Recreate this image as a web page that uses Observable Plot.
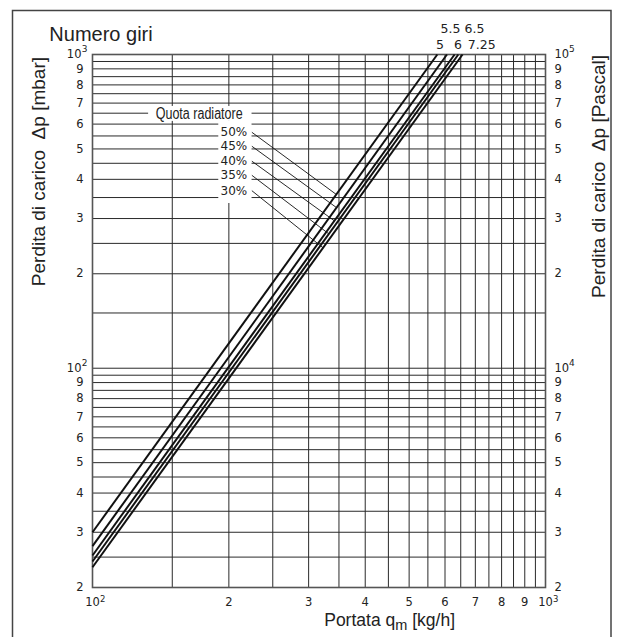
<!DOCTYPE html>
<html><head><meta charset="utf-8">
<script src="https://cdn.jsdelivr.net/npm/d3@7"></script>
<script src="https://cdn.jsdelivr.net/npm/@observablehq/plot@0.6"></script>
<style>
html,body{margin:0;padding:0;background:#fff;}
</style></head><body><div id="chart"></div>
<script>
// ---- data ----
const turns = ["5", "5.5", "6", "6.5", "7.25"];            // Numero giri
const dpAtFlow100 = [30, 27.1, 25.3, 24.2, 23.2];          // mbar at 100 kg/h
const flowAtDp1000 = [577, 606, 630, 642, 656];            // kg/h at 1000 mbar
const turnLabelFlow = [585, 617, 641, 697, 723];           // label positions (kg/h)
const turnLabelDp = [1076, 1206, 1076, 1206, 1076];        // label rows (mbar)

const shares = ["50%", "45%", "40%", "35%", "30%"];        // Quota radiatore
const shareLabelFlow = 219.6;
const shareLabelDp = [565, 510, 457, 412, 368];
const leaderStartFlow = 224.8;
const leaderEndDp = [358, 325, 295, 268, 242];
const quotaTitle = "Quota radiatore";
const quotaTitleFlow = 172, quotaTitleDp = 645;
const labelBoxes = [
  {q1: 133, q2: 225, p1: 612, p2: 683},
  {q1: 190, q2: 225, p1: 335, p2: 612}
];

// tick values and their labels
const xTicks = [100, 200, 300, 400, 500, 600, 700, 800, 900, 1000];
const xTickText = ["10", "2", "3", "4", "5", "6", "7", "8", "9", "10"];
const xTickExp = ["2", "", "", "", "", "", "", "", "", "3"];
const yTicks = [20, 30, 40, 50, 60, 70, 80, 90, 100, 200, 300, 400, 500, 600, 700, 800, 900, 1000];
const yTickText = ["2", "3", "4", "5", "6", "7", "8", "9", "10", "2", "3", "4", "5", "6", "7", "8", "9", "10"];
const yLeftExp = ["", "", "", "", "", "", "", "", "2", "", "", "", "", "", "", "", "", "3"];
const yRightExp = ["", "", "", "", "", "", "", "", "4", "", "", "", "", "", "", "", "", "5"];
const xGrid = d3.range(100, 1001, 50);
const yGrid = d3.range(20, 100, 5).concat(d3.range(100, 1001, 50));

// ---- derived tables ----
const curves = turns.map((t, i) => ({turn: t, q1: 100, p1: dpAtFlow100[i], q2: flowAtDp1000[i], p2: 1000}));
function flowOnCurve(i, dp) {
  const c = curves[i];
  const s = (Math.log10(c.p2) - Math.log10(c.p1)) / (Math.log10(c.q2) - Math.log10(c.q1));
  return c.q1 * Math.pow(10, (Math.log10(dp) - Math.log10(c.p1)) / s);
}
const leaders = shares.map((s, i) => ({q1: leaderStartFlow, p1: shareLabelDp[i], q2: flowOnCurve(i, leaderEndDp[i]), p2: leaderEndDp[i]}));
const shareRows = shares.map((s, i) => ({s, q: shareLabelFlow, p: shareLabelDp[i]}));
const turnRows = turns.map((t, i) => ({t, q: turnLabelFlow[i], p: turnLabelDp[i]}));
const xRows = xTicks.map((v, i) => ({v, t: xTickText[i], e: xTickExp[i]}));
const yRows = yTicks.map((v, i) => ({v, t: yTickText[i], el: yLeftExp[i], er: yRightExp[i]}));
const xPow = xRows.filter(d => d.e);
const yPowL = yRows.filter(d => d.el);
const yPowR = yRows.filter(d => d.er);
const yPlainL = yRows.filter(d => !d.el);

const gridStroke = "#2a2a2a";
const tickFont = "DejaVu Sans";
const ink = "#222";

const svgEl = Plot.plot({
  width: 623, height: 637,
  marginLeft: 92, marginRight: 78, marginTop: 54, marginBottom: 50,
  x: {type: "log", domain: [100, 1000], axis: null},
  y: {type: "log", domain: [20, 1000], axis: null},
  style: {fontFamily: tickFont, fontSize: "11.5px", color: ink, background: "#fff", overflow: "visible"},
  marks: [
    Plot.ruleX(xGrid, {stroke: gridStroke, strokeWidth: 1}),
    Plot.ruleY(yGrid, {stroke: gridStroke, strokeWidth: 1}),
    Plot.rect(labelBoxes, {x1: "q1", x2: "q2", y1: "p1", y2: "p2", fill: "#fff"}),
    Plot.frame({stroke: "#555", strokeWidth: 1.6}),
    // bottom tick labels
    Plot.text(xRows, {x: "v", text: "t", frameAnchor: "bottom", lineAnchor: "top", dy: 10, fill: ink}),
    Plot.text(xPow, {x: "v", text: "e", frameAnchor: "bottom", lineAnchor: "top", textAnchor: "start", dx: 7.5, dy: 8.6, fontSize: 8.5, fill: ink}),
    // left tick labels
    Plot.text(yPlainL, {y: "v", text: "t", frameAnchor: "left", textAnchor: "end", dx: -9, fill: ink}),
    Plot.text(yPowL, {y: "v", text: "t", frameAnchor: "left", textAnchor: "end", dx: -11, fill: ink}),
    Plot.text(yPowL, {y: "v", text: "el", frameAnchor: "left", textAnchor: "end", dx: -5, dy: -5, fontSize: 9, fill: ink}),
    // right tick labels
    Plot.text(yRows, {y: "v", text: "t", frameAnchor: "right", textAnchor: "start", dx: 9, fill: ink}),
    Plot.text(yPowR, {y: "v", text: "er", frameAnchor: "right", textAnchor: "start", dx: 23.5, dy: -5, fontSize: 9, fill: ink}),
    // curves and annotations
    Plot.link(leaders, {x1: "q1", y1: "p1", x2: "q2", y2: "p2", stroke: "#111", strokeWidth: 0.9}),
    Plot.link(curves, {x1: "q1", y1: "p1", x2: "q2", y2: "p2", stroke: "#111", strokeWidth: 2}),
    Plot.text(shareRows, {x: "q", y: "p", text: "s", textAnchor: "end", fontSize: 12, fill: ink}),
    Plot.text([quotaTitle], {x: () => quotaTitleFlow, y: () => quotaTitleDp, text: d => d, fontSize: 16,
      fontFamily: "'Liberation Sans', Arial, sans-serif", fill: ink}),
    Plot.text(turnRows, {x: "q", y: "p", text: "t", fontSize: 12.5, fill: ink})
  ]
});

const svg = d3.select(svgEl);
// condense the "Quota radiatore" label like the narrow face of the original
svg.selectAll("text").filter(function() { return this.textContent === quotaTitle; })
  .attr("textLength", 87).attr("lengthAdjust", "spacingAndGlyphs");

const titleFont = "'Liberation Sans', Arial, sans-serif";
svg.append("rect").attr("x", 12.5).attr("y", 10.5).attr("width", 598.5).attr("height", 640)
  .attr("fill", "none").attr("stroke", "#444").attr("stroke-width", 1.5);
svg.append("text").attr("x", 101).attr("y", 40.5).style("font-family", titleFont).style("font-size", "20px")
  .attr("fill", ink).text("Numero giri");
svg.append("text").attr("transform", "translate(45,57) rotate(-90)").attr("text-anchor", "end")
  .style("font-family", titleFont).style("font-size", "19px").attr("fill", ink)
  .text("Perdita di carico\u00a0 Δp [mbar]");
svg.append("text").attr("transform", "translate(605,55) rotate(-90)").attr("text-anchor", "end")
  .style("font-family", titleFont).style("font-size", "19px").attr("fill", ink)
  .text("Perdita di carico\u00a0 Δp [Pascal]");
const xl = svg.append("text").attr("x", 455).attr("y", 626).attr("text-anchor", "end")
  .style("font-family", titleFont).style("font-size", "17.5px").attr("fill", ink);
xl.append("tspan").text("Portata q");
xl.append("tspan").attr("dy", 4).style("font-size", "14.5px").text("m");
xl.append("tspan").attr("dy", -4).text("\u00a0[kg/h]");

document.getElementById("chart").appendChild(svgEl);
</script>
</body></html>
